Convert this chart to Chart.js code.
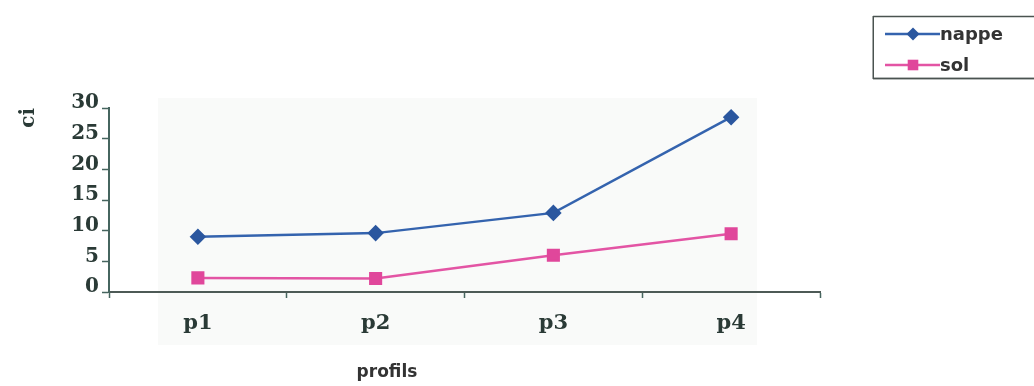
<!DOCTYPE html>
<html>
<head>
<meta charset="utf-8">
<script src="https://cdn.jsdelivr.net/npm/chart.js@4/dist/chart.umd.min.js"></script>
<style>
  html, body { margin: 0; padding: 0; background: #ffffff; overflow: hidden; }
  #wrap { width: 1034px; height: 386px; position: relative; }
</style>
</head>
<body>
<div id="wrap"><canvas id="c"></canvas></div>
<script>
// Profiles along the x axis and the two measured series
const categories = ['p1', 'p2', 'p3', 'p4'];
const nappe = [9.0, 9.6, 12.9, 28.5];
const sol = [2.3, 2.2, 6.0, 9.5];
const yTickValues = [0, 5, 10, 15, 20, 25, 30];
const seriesNames = ['nappe', 'sol'];
const xTitle = 'profils';
const yTitle = 'ci';

const axisColor = '#46655f';
const textColor = '#2a3a36';
const serif = "'DejaVu Serif', 'Liberation Serif', serif";
const sans = "'DejaVu Sans', 'Liberation Sans', Arial, sans-serif";

// faint panel behind the plot
const panel = {
  id: 'panel',
  beforeDraw(chart) {
    const ctx = chart.ctx;
    ctx.save();
    ctx.fillStyle = '#f9faf9';
    ctx.fillRect(158, 98, 599, 247);
    ctx.restore();
  }
};

// x-axis caption, sitting under the second profile
const caption = {
  id: 'caption',
  afterDraw(chart) {
    const ctx = chart.ctx;
    ctx.save();
    ctx.fillStyle = '#333333';
    ctx.font = 'bold 17px ' + sans;
    ctx.textAlign = 'center';
    ctx.textBaseline = 'middle';
    ctx.fillText(xTitle, 387, 373);
    ctx.restore();
  }
};

function marker(ctx, style, radius, x, y) {
  ctx.beginPath();
  if (style === 'rectRot') {
    ctx.moveTo(x - radius, y); ctx.lineTo(x, y - radius);
    ctx.lineTo(x + radius, y); ctx.lineTo(x, y + radius);
  } else {
    const s = radius * Math.SQRT1_2;
    ctx.rect(x - s, y - s, 2 * s, 2 * s);
  }
  ctx.closePath();
  ctx.fill();
}

function hRule(ctx, x1, x2, y, w) {
  ctx.fillRect(x1, y - w / 2, x2 - x1, w);
}

// framed legend in the top-right corner, line + marker + name per series
const framedLegend = {
  id: 'framedLegend',
  afterDraw(chart) {
    const ctx = chart.ctx;
    ctx.save();
    ctx.fillStyle = '#4a5350';
    hRule(ctx, 873, 1034, 16.5, 1.5);
    hRule(ctx, 873, 1034, 78.5, 1.8);
    ctx.fillRect(872.5, 16, 1.5, 63);

    chart.data.datasets.forEach((ds, i) => {
      const y = 34 + i * 31;
      ctx.fillStyle = ds.borderColor;
      hRule(ctx, 885, 940, y, ds.borderWidth);
      ctx.fillStyle = ds.pointBackgroundColor;
      marker(ctx, ds.pointStyle, ds.pointRadius, 913, y);
      ctx.fillStyle = '#333333';
      ctx.font = 'bold 18px ' + sans;
      ctx.textAlign = 'left';
      ctx.textBaseline = 'middle';
      ctx.fillText(ds.label, 940, y + 1);
    });
    ctx.restore();
  }
};

new Chart(document.getElementById('c'), {
  type: 'line',
  data: {
    labels: categories,
    datasets: [
      {
        label: seriesNames[0],
        data: nappe,
        borderColor: '#3463ae',
        borderWidth: 2.5,
        pointStyle: 'rectRot',
        pointRadius: 6.5,
        pointBackgroundColor: '#2b579f',
        pointBorderColor: '#2b579f',
        tension: 0
      },
      {
        label: seriesNames[1],
        data: sol,
        borderColor: '#e354a4',
        borderWidth: 2.5,
        pointStyle: 'rect',
        pointRadius: 7.5,
        pointBackgroundColor: '#e0479b',
        pointBorderColor: '#e0479b',
        tension: 0
      }
    ]
  },
  options: {
    responsive: true,
    maintainAspectRatio: false,
    animation: false,
    layout: { padding: { top: 108, right: 214, left: 0, bottom: 0 } },
    plugins: {
      legend: { display: false },
      tooltip: { enabled: false }
    },
    scales: {
      x: {
        offset: true,
        afterFit(scale) { scale.height = 94; },
        grid: {
          offset: true,
          drawOnChartArea: false,
          drawTicks: true,
          tickLength: 6,
          tickColor: axisColor,
          tickWidth: 1.5
        },
        border: { display: true, color: '#4d5a56', width: 2 },
        ticks: {
          color: textColor,
          font: { family: serif, size: 21, weight: 'bold' },
          padding: 13,
          maxRotation: 0
        }
      },
      y: {
        min: yTickValues[0],
        max: yTickValues[yTickValues.length - 1],
        afterFit(scale) { scale.width = 109; },
        afterBuildTicks(scale) { scale.ticks = yTickValues.map(v => ({ value: v })); },
        grid: {
          drawOnChartArea: false,
          drawTicks: true,
          tickLength: 7,
          tickColor: axisColor,
          tickWidth: 1.5
        },
        border: { display: true, color: axisColor, width: 2 },
        title: {
          display: true,
          text: yTitle,
          align: 'end',
          color: textColor,
          font: { family: serif, size: 20, weight: 'bold' },
          padding: { top: 17, bottom: 0 }
        },
        ticks: {
          color: textColor,
          font: { family: serif, size: 20, weight: 'bold' },
          padding: 3,
          labelOffset: -5
        }
      }
    }
  },
  plugins: [panel, caption, framedLegend]
});
</script>
</body>
</html>
